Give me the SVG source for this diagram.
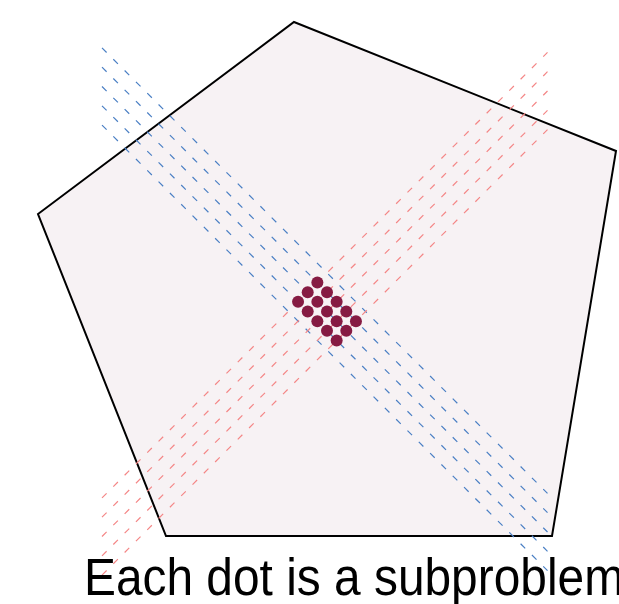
<svg xmlns="http://www.w3.org/2000/svg" width="619" height="604" viewBox="0 0 619 604">
<style>
.poly{fill:#f7f2f4;stroke:#000;stroke-width:2;stroke-linejoin:miter}
.bl{stroke:#4a7fc4;stroke-width:1.2;stroke-dasharray:6.5 9.5;fill:none}
.rd{stroke:#f48686;stroke-width:1.2;stroke-dasharray:6.5 9.5;fill:none}
.dot{fill:#861b43}
.lbl{font-family:"Liberation Sans",Arial,sans-serif;font-size:51px;fill:#000}
</style>
<rect width="619" height="604" fill="#fff"/>
<g id="pentagon">
<polygon class="poly" points="294,22 616,151 552,536 166,536 38,214"/>
</g>
<g id="connectors">
<line class="bl" x1="102" y1="47.9" x2="547.5" y2="493.4"/>
<line class="bl" x1="102" y1="67.2" x2="547.5" y2="512.7"/>
<line class="bl" x1="102" y1="86.5" x2="547.5" y2="532"/>
<line class="bl" x1="102" y1="105.8" x2="547.5" y2="551.3"/>
<line class="bl" x1="102" y1="125.1" x2="547.5" y2="570.6"/>
<line class="rd" x1="102" y1="497.9" x2="547.5" y2="52.4"/>
<line class="rd" x1="102" y1="517.2" x2="547.5" y2="71.7"/>
<line class="rd" x1="102" y1="536.5" x2="547.5" y2="91"/>
<line class="rd" x1="102" y1="555.8" x2="547.5" y2="110.3"/>
<line class="rd" x1="102" y1="575.1" x2="547.5" y2="129.6"/>
</g>
<g id="dots">
<circle class="dot" cx="317.35" cy="282.55" r="6"/>
<circle class="dot" cx="327" cy="292.2" r="6"/>
<circle class="dot" cx="336.65" cy="301.85" r="6"/>
<circle class="dot" cx="346.3" cy="311.5" r="6"/>
<circle class="dot" cx="355.95" cy="321.15" r="6"/>
<circle class="dot" cx="307.7" cy="292.2" r="6"/>
<circle class="dot" cx="317.35" cy="301.85" r="6"/>
<circle class="dot" cx="327" cy="311.5" r="6"/>
<circle class="dot" cx="336.65" cy="321.15" r="6"/>
<circle class="dot" cx="346.3" cy="330.8" r="6"/>
<circle class="dot" cx="298.05" cy="301.85" r="6"/>
<circle class="dot" cx="307.7" cy="311.5" r="6"/>
<circle class="dot" cx="317.35" cy="321.15" r="6"/>
<circle class="dot" cx="327" cy="330.8" r="6"/>
<circle class="dot" cx="336.65" cy="340.45" r="6"/>
</g>
<g id="caption">
<text class="lbl" x="84" y="595" textLength="540" lengthAdjust="spacingAndGlyphs">Each dot is a subproblem</text>
</g>
</svg>
